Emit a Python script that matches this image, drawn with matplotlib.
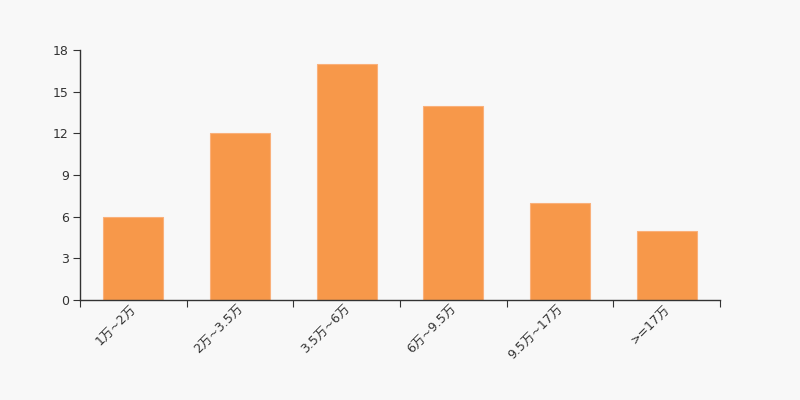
import numpy as np
import matplotlib
matplotlib.use('Agg')
import matplotlib.pyplot as plt

plt.rcParams['font.family'] = ['DejaVu Sans', 'Noto Sans CJK SC']

categories = ['1万~2万', '2万~3.5万', '3.5万~6万', '6万~9.5万', '9.5万~17万', '>=17万']
values = [6, 12, 17, 14, 7, 5]
yticks = [0, 3, 6, 9, 12, 15, 18]

bg = '#f8f8f8'
fig = plt.figure(figsize=(8, 4), dpi=100, facecolor=bg)
ax = fig.add_axes([0.1, 0.25, 0.8, 0.625], facecolor=bg)

x = np.arange(len(categories))
ax.bar(x, values, width=0.5625, color='#f7984a', edgecolor='#fab07a', linewidth=0.8)

ax.set_xlim(-0.5, len(categories) - 0.5)
ax.set_ylim(0, 18)
ax.set_yticks(yticks)

# boundary ticks as major, labels at centers as minor
ax.set_xticks(np.arange(-0.5, len(categories)))
ax.set_xticklabels([])
ax.set_xticks(x - 0.03, minor=True)
ax.set_xticklabels(categories, minor=True, rotation=45, ha='right',
                   rotation_mode='anchor', fontsize=9, color='#333333')
ax.tick_params(axis='x', which='minor', length=0, pad=2)
ax.tick_params(axis='x', which='major', length=5, color='#333333')
ax.tick_params(axis='y', length=5, color='#333333', labelsize=9,
               labelcolor='#333333', pad=3)

for s in ['top', 'right']:
    ax.spines[s].set_visible(False)
for s in ['left', 'bottom']:
    ax.spines[s].set_color('#333333')
    ax.spines[s].set_linewidth(1)

fig.savefig('out.png', dpi=100, facecolor=bg)
